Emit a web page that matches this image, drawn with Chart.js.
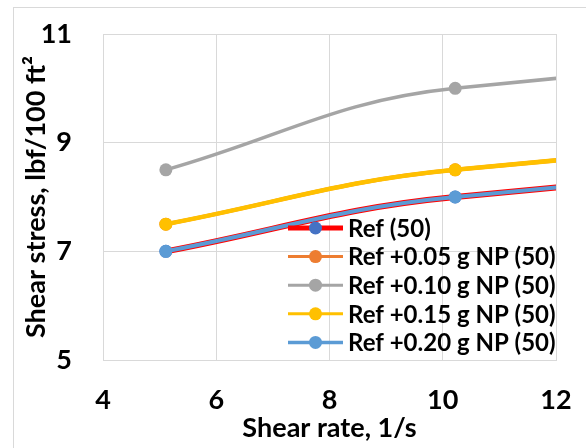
<!DOCTYPE html>
<html>
<head>
<meta charset="utf-8">
<script src="https://cdn.jsdelivr.net/npm/chart.js@4"></script>
<style>
  html, body { margin: 0; padding: 0; background: #fff; }
  #wrap { width: 586px; height: 448px; position: relative; }
</style>
</head>
<body>
<div id="wrap"><canvas id="shearChart"></canvas></div>
<script>
// Shear rates in 1/s. The last rate sits past the axis end, it is only there
// so the smoothed curves keep running off the right edge like in the original.
const shearRates = [5.11, 10.22, 170.3];

// Shear stress, lbf/100 ft2
const refStress = [7.0, 8.0, 23.5];
const np005Stress = [7.5, 8.5, 24.0];
const np010Stress = [8.5, 10.0, 26.2];
const np015Stress = [7.5, 8.5, 24.0];
const np020Stress = [7.0, 8.0, 23.5];

const seriesLabels = ['Ref (50)', 'Ref +0.05 g NP (50)', 'Ref +0.10 g NP (50)', 'Ref +0.15 g NP (50)', 'Ref +0.20 g NP (50)'];
const xTicks = [4, 6, 8, 10, 12];
const yTicks = [5, 7, 9, 11];

const allStress = [refStress, np005Stress, np010Stress, np015Stress, np020Stress];
const lineColors = ['#ff0000', '#ed7d31', '#a5a5a5', '#ffc000', '#5b9bd5'];
const markerColors = ['#4472c4', '#ed7d31', '#a5a5a5', '#ffc000', '#5b9bd5'];
const lineWidths = [6, 4, 3.5, 4.5, 4];
const legendWidths = [5, 3, 3, 3, 3.5];

const FONT = 'Lato, "Open Sans", sans-serif';

function toPoints(values) {
    return values.map((v, i) => ({ x: shearRates[i], y: v }));
}

const datasets = allStress.map((values, i) => ({
    label: seriesLabels[i],
    data: toPoints(values),
    borderColor: lineColors[i],
    backgroundColor: markerColors[i],
    pointBackgroundColor: markerColors[i],
    pointBorderColor: markerColors[i],
    pointBorderWidth: 0,
    borderWidth: lineWidths[i],
    pointRadius: 6.5,
    showLine: true,
    tension: 0.4,
    clip: 0,
    order: allStress.length - i,   // later series on top, like Excel
    legendLine: legendWidths[i]
}));

// light frame round the whole chart
const outerFrame = {
    id: 'outerFrame',
    beforeDraw(chart) {
        const ctx = chart.ctx;
        ctx.save();
        ctx.strokeStyle = '#d9d9d9';
        ctx.lineWidth = 1;
        ctx.strokeRect(13.5, 7.5, 700, 600);
        ctx.restore();
    }
};

// legend sits inside the plot, bottom right, no box
const insideLegend = {
    id: 'insideLegend',
    afterDatasetsDraw(chart) {
        const ctx = chart.ctx;
        chart.data.datasets.forEach((ds, i) => {
            const y = 228 + i * 28.6;
            ctx.save();
            ctx.strokeStyle = ds.borderColor;
            ctx.lineWidth = ds.legendLine;
            ctx.beginPath();
            ctx.moveTo(288, y);
            ctx.lineTo(343, y);
            ctx.stroke();
            ctx.fillStyle = ds.pointBackgroundColor;
            ctx.beginPath();
            ctx.arc(315.5, y, 6.5, 0, Math.PI * 2);
            ctx.fill();
            ctx.fillStyle = '#000';
            ctx.font = 'bold 24px ' + FONT;
            ctx.textBaseline = 'middle';
            ctx.fillText(ds.label, 348, y + 1);
            ctx.restore();
        });
    }
};

const chart = new Chart(document.getElementById('shearChart'), {
    type: 'scatter',
    data: { datasets: datasets },
    options: {
        responsive: true,
        maintainAspectRatio: false,
        animation: false,
        layout: { padding: { left: 0, top: 34, right: 30, bottom: 0 } },
        plugins: {
            legend: { display: false },
            tooltip: { enabled: false }
        },
        scales: {
            x: {
                type: 'linear',
                min: xTicks[0],
                max: xTicks[xTicks.length - 1],
                afterBuildTicks: (scale) => { scale.ticks = xTicks.map(v => ({ value: v })); },
                afterFit: (scale) => {
                    scale.height = 88;
                    scale.paddingLeft = 0;
                    scale.paddingRight = 0;
                },
                grid: { color: '#d9d9d9', lineWidth: 1, drawTicks: false },
                border: { color: '#d9d9d9' },
                ticks: {
                    padding: 24,
                    color: '#000',
                    font: { family: FONT, size: 27, weight: 'bold' }
                },
                title: {
                    display: true,
                    text: 'Shear rate, 1/s',
                    color: '#000',
                    padding: { top: 0, bottom: 4 },
                    font: { family: FONT, size: 27, weight: 'bold' }
                }
            },
            y: {
                type: 'linear',
                min: yTicks[0],
                max: yTicks[yTicks.length - 1],
                afterBuildTicks: (scale) => { scale.ticks = yTicks.map(v => ({ value: v })); },
                afterFit: (scale) => {
                    scale.width = 103;
                    scale.paddingTop = 0;
                    scale.paddingBottom = 0;
                },
                grid: { color: '#d9d9d9', lineWidth: 1, drawTicks: false },
                border: { color: '#d9d9d9' },
                ticks: {
                    padding: 31,
                    color: '#000',
                    font: { family: FONT, size: 27, weight: 'bold' }
                },
                title: {
                    display: true,
                    text: 'Shear stress, lbf/100 ft\u00b2',
                    color: '#000',
                    padding: { top: 20, bottom: 0 },
                    font: { family: FONT, size: 27, weight: 'bold' }
                }
            }
        }
    },
    plugins: [outerFrame, insideLegend]
});
</script>
</body>
</html>
